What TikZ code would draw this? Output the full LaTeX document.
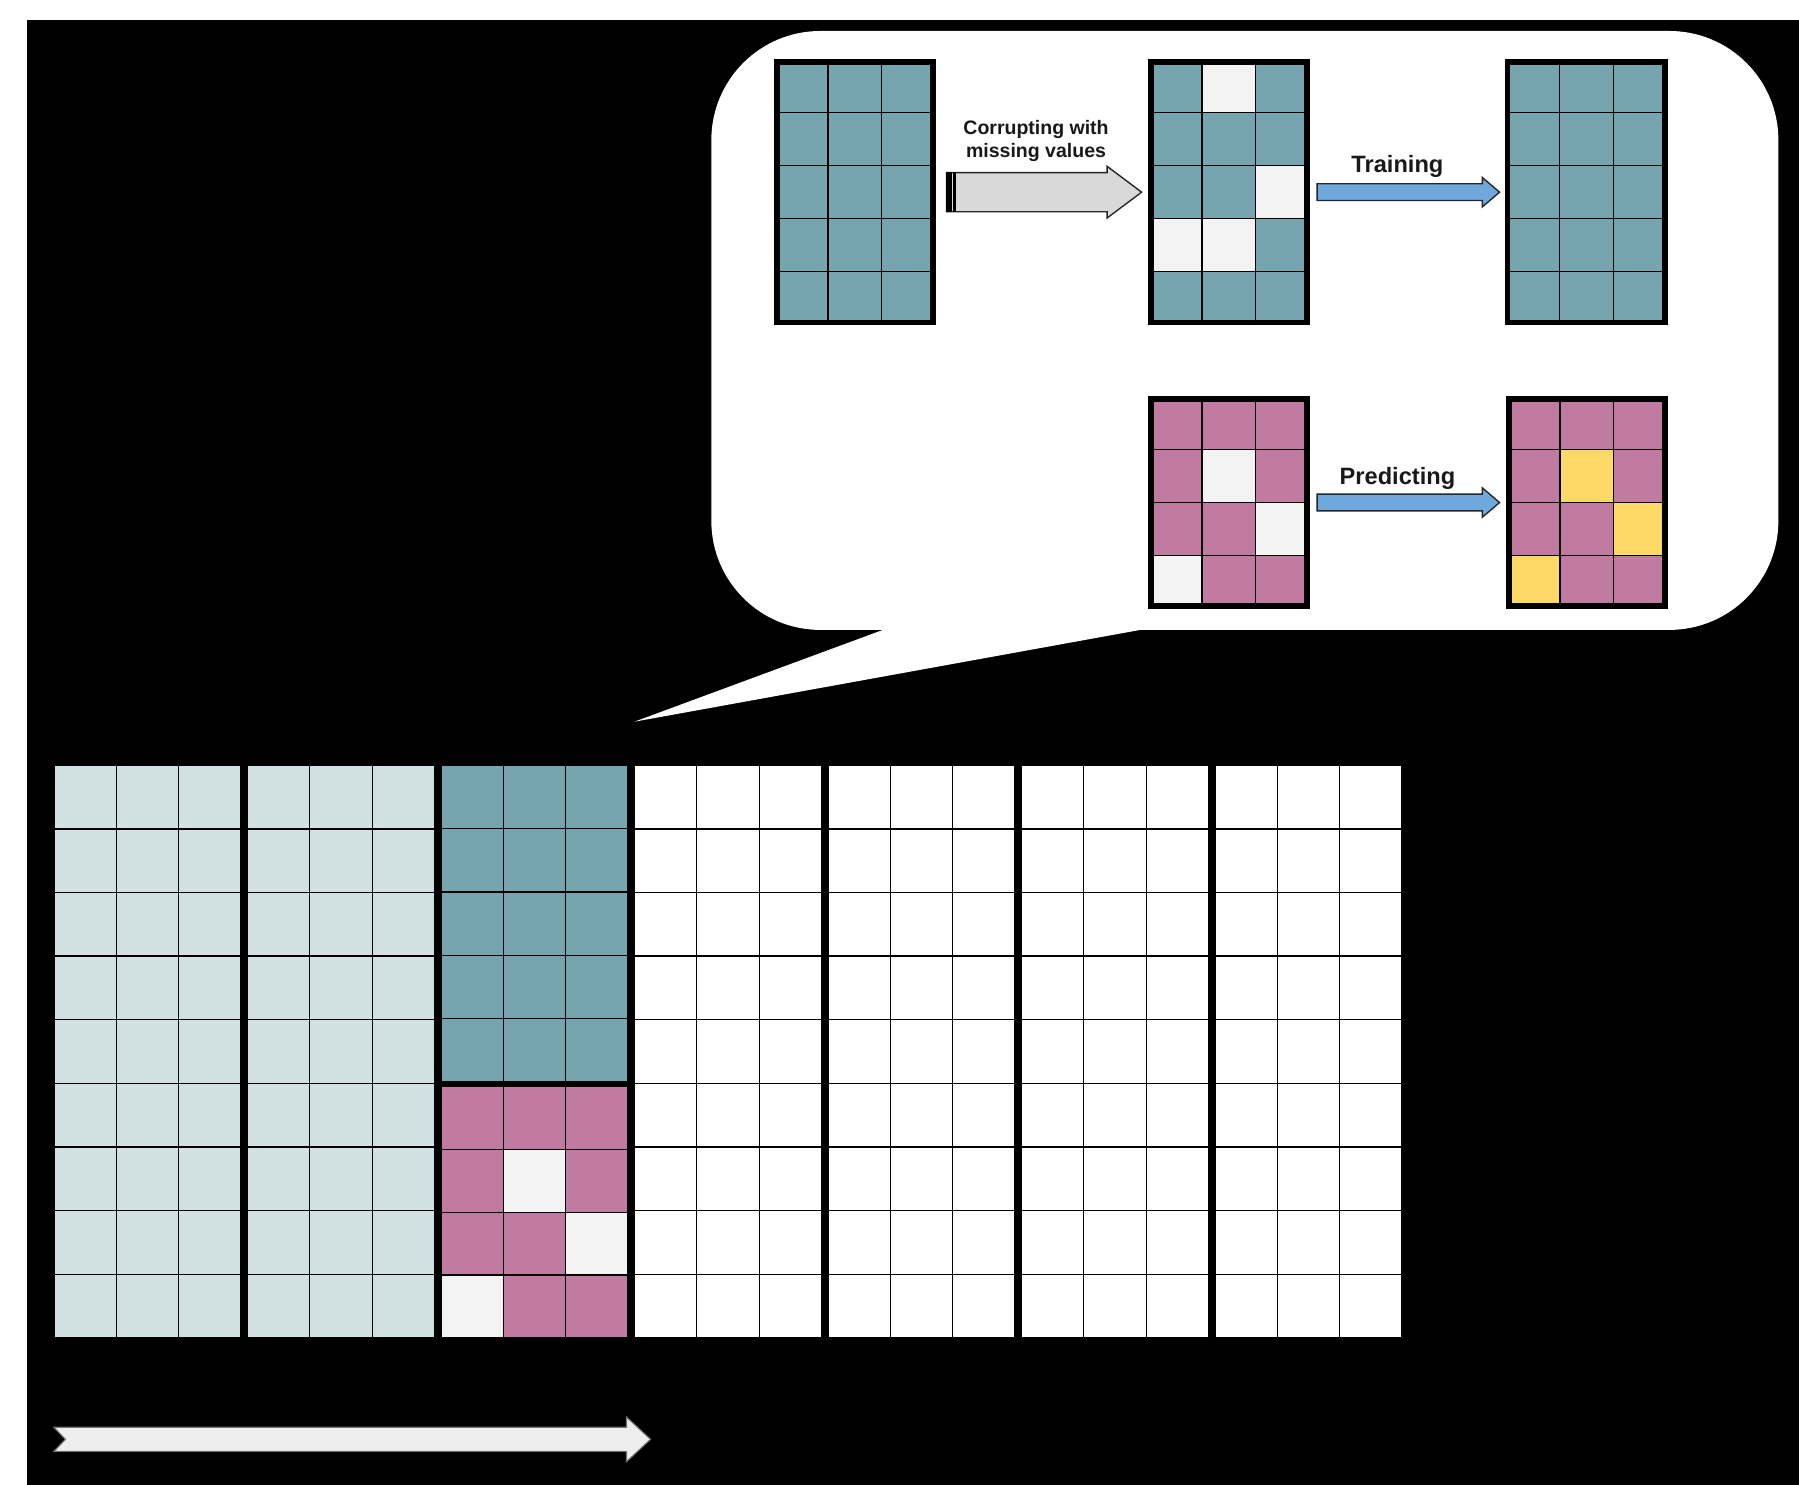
\documentclass[tikz,border=0pt]{standalone}
\usepackage{fontspec}
\setmainfont{Liberation Sans}
\usetikzlibrary{calc}
\definecolor{cteal}{HTML}{76A5AF}
\definecolor{cpink}{HTML}{C27BA0}
\definecolor{cyel}{HTML}{FFD966}
\definecolor{cmiss}{HTML}{F3F3F3}
\definecolor{clight}{HTML}{D0E0E3}
\definecolor{cblue}{HTML}{6FA8DC}
\definecolor{cgrayarr}{HTML}{D9D9D9}
\definecolor{cbigarr}{HTML}{EEEEEE}
\tikzset{
  gridnode/.style={rectangle, inner sep=0pt, outer sep=0pt, anchor=north west},
  cellline/.style={draw=black, line width=1.1pt},
  thickborder/.style={draw=black, line width=4.4pt},
  bluearr/.style={fill=cblue, draw=black!85, line width=1.2pt, line join=miter},
  grayarr/.style={fill=cgrayarr, draw=black!85, line width=1.2pt, line join=miter},
  lbl/.style={font=\bfseries\fontsize{20.6}{23}\selectfont, text=black!90, inner sep=0pt},
  smalllbl/.style={font=\bfseries\fontsize{17}{20}\selectfont, text=black!90, align=center, inner sep=0pt},
}
% #1 node, #2 cols, #3 rows, #4 cell w, #5 cell h, #6 fill
\newcommand\drawcells[6]{%
  \begin{scope}[shift={(#1.north west)}]
    \foreach \c in {1,...,#2}{%
      \foreach \r in {1,...,#3}{%
        \draw[cellline, fill=#6] ({(\c-1)*#4},{(\r-1)*#5}) rectangle ({\c*#4},{\r*#5});
      }}
  \end{scope}}
% #1 node, #2 col, #3 row (0-based), #4 cw, #5 ch, #6 fill
\newcommand\markcell[6]{%
  \begin{scope}[shift={(#1.north west)}]
    \draw[cellline, fill=#6] ({#2*#4},{#3*#5}) rectangle ({(#2+1)*#4},{(#3+1)*#5});
  \end{scope}}
\newcommand\gridborder[1]{%
  \draw[thickborder] ([shift={(2.2,2.2)}]#1.north west) rectangle ([shift={(-2.2,-2.2)}]#1.south east);}
% #1 style, #2 from, #3 to, #4 body half, #5 head half, #6 head length
\newcommand\blockarrow[6]{%
  \draw[#1] let \p1=(#2), \p2=(#3) in
    (\x1,\y1+#4) -- (\x2-#6,\y1+#4) -- (\x2-#6,\y1+#5) -- (\x2,\y1)
    -- (\x2-#6,\y1-#5) -- (\x2-#6,\y1-#4) -- (\x1,\y1-#4) -- cycle;}
\begin{document}
\begin{tikzpicture}[x=1pt,y=-1pt]
\useasboundingbox (0,0) rectangle (1568,1294);
\fill[white] (0,0) rectangle (1568,1294);
\fill[black] (23.5,17.4) rectangle (1568,1294);

% speech bubble
\fill[white, rounded corners=95pt] (620,27) rectangle (1550,549);
\fill[white] (775,547) -- (553,629) -- (1005,547) -- cycle;

% ---------- bubble grids ----------
\node[gridnode, minimum width=140pt, minimum height=231pt] (A) at (675,52) {};
\node[gridnode, minimum width=140pt, minimum height=231pt] (B) at (1001,52) {};
\node[gridnode, minimum width=141pt, minimum height=231pt] (C) at (1312,52) {};
\node[gridnode, minimum width=140pt, minimum height=184pt] (D) at (1001,346) {};
\node[gridnode, minimum width=140pt, minimum height=184pt] (E) at (1313,346) {};

\drawcells{A}{3}{5}{46.67}{46.2}{cteal}
\gridborder{A}

\drawcells{B}{3}{5}{46.67}{46.2}{cteal}
\markcell{B}{1}{0}{46.67}{46.2}{cmiss}
\markcell{B}{2}{2}{46.67}{46.2}{cmiss}
\markcell{B}{0}{3}{46.67}{46.2}{cmiss}
\markcell{B}{1}{3}{46.67}{46.2}{cmiss}
\gridborder{B}

\drawcells{C}{3}{5}{47}{46.2}{cteal}
\gridborder{C}

\drawcells{D}{3}{4}{46.67}{46}{cpink}
\markcell{D}{1}{1}{46.67}{46}{cmiss}
\markcell{D}{2}{2}{46.67}{46}{cmiss}
\markcell{D}{0}{3}{46.67}{46}{cmiss}
\gridborder{D}

\drawcells{E}{3}{4}{46.67}{46}{cpink}
\markcell{E}{1}{1}{46.67}{46}{cyel}
\markcell{E}{2}{2}{46.67}{46}{cyel}
\markcell{E}{0}{3}{46.67}{46}{cyel}
\gridborder{E}

% ---------- arrows in bubble ----------
\blockarrow{grayarr}{[xshift=10pt]A.east}{[xshift=-6pt]B.west}{17pt}{22.5pt}{30pt}
\fill[black] let \p1=([xshift=10pt]A.east) in (\x1-0.6pt,\y1+17.6pt) rectangle (\x1+4.5pt,\y1-17.6pt);
\fill[black] let \p1=([xshift=10pt]A.east) in (\x1+6pt,\y1+17.6pt) rectangle (\x1+8pt,\y1-17.6pt);
\node[smalllbl] (tcorr) at (903,122.5) {Corrupting with\\missing values};

\blockarrow{bluearr}{[xshift=7pt]B.east}{[xshift=-5pt]C.west}{7.3pt}{12.8pt}{15pt}
\node[lbl] (ttrain) at (1218,145) {Training};

\blockarrow{bluearr}{[xshift=7pt]D.east}{[xshift=-6pt]E.west}{7.3pt}{12.8pt}{15pt}
\node[lbl] (tpred) at (1218,417) {Predicting};

% ---------- bottom blocks ----------
\node[gridnode, minimum width=163pt, minimum height=499pt] (b1) at (47,667) {};
\node[gridnode, minimum width=163pt, minimum height=499pt] (b2) at (215.7,667) {};
\node[gridnode, minimum width=163pt, minimum height=276pt] (b3t) at (384.3,667) {};
\node[gridnode, minimum width=163pt, minimum height=219pt] (b3p) at (384.3,947) {};
\node[gridnode, minimum width=163pt, minimum height=499pt] (b4) at (553,667) {};
\node[gridnode, minimum width=163pt, minimum height=499pt] (b5) at (721.7,667) {};
\node[gridnode, minimum width=163pt, minimum height=499pt] (b6) at (890.3,667) {};
\node[gridnode, minimum width=163pt, minimum height=499pt] (b7) at (1059,667) {};

\drawcells{b1}{3}{9}{54.33}{55.44}{clight}
\drawcells{b2}{3}{9}{54.33}{55.44}{clight}
\drawcells{b3t}{3}{5}{54.33}{55.2}{cteal}
\drawcells{b3p}{3}{4}{54.33}{54.75}{cpink}
\markcell{b3p}{1}{1}{54.33}{54.75}{cmiss}
\markcell{b3p}{2}{2}{54.33}{54.75}{cmiss}
\markcell{b3p}{0}{3}{54.33}{54.75}{cmiss}
\drawcells{b4}{3}{9}{54.33}{55.44}{white}
\drawcells{b5}{3}{9}{54.33}{55.44}{white}
\drawcells{b6}{3}{9}{54.33}{55.44}{white}
\drawcells{b7}{3}{9}{54.33}{55.44}{white}

% ---------- time arrow ----------
\coordinate (tl) at (47,1254.5);
\coordinate (tr) at (567,1254.5);
\draw[fill=cbigarr, draw=black!55, line width=1pt, line join=miter]
  let \p1=(tl), \p2=(tr) in
  (\x1,\y1+10.5pt) -- (\x2-21pt,\y1+10.5pt) -- (\x2-21pt,\y1+19.5pt) -- (\x2,\y1)
  -- (\x2-21pt,\y1-19.5pt) -- (\x2-21pt,\y1-10.5pt) -- (\x1,\y1-10.5pt)
  -- (\x1+10pt,\y1) -- cycle;
\end{tikzpicture}
\end{document}
